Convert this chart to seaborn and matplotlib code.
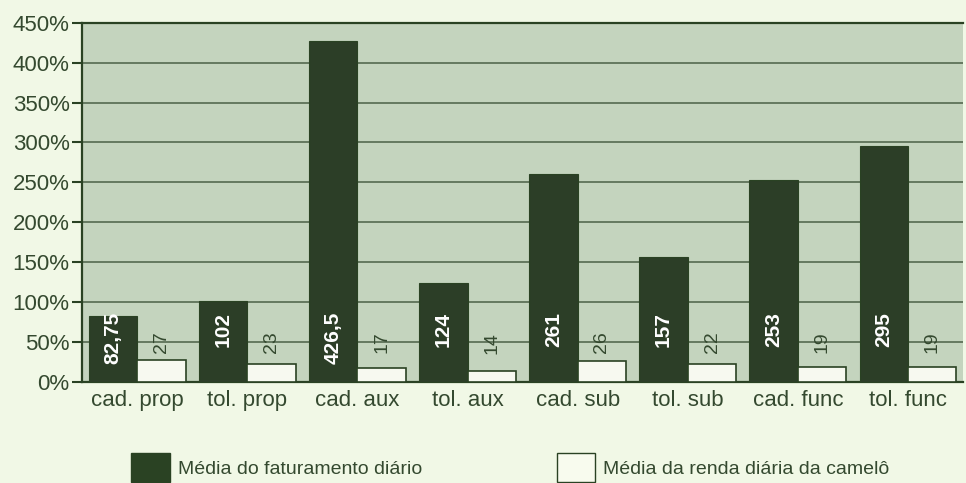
import matplotlib
matplotlib.use("Agg")
import matplotlib.pyplot as plt
import seaborn as sns
import pandas as pd
from matplotlib.patches import Patch

categories = ["cad. prop", "tol. prop", "cad. aux", "tol. aux",
              "cad. sub", "tol. sub", "cad. func", "tol. func"]
faturamento = [82.75, 102, 426.5, 124, 261, 157, 253, 295]
renda = [27, 23, 17, 14, 26, 22, 19, 19]
faturamento_labels = ["82,75", "102", "426,5", "124", "261", "157", "253", "295"]
renda_labels = ["27", "23", "17", "14", "26", "22", "19", "19"]
series_names = ["Média do faturamento diário", "Média da renda diária da camelô"]
yticks = [0, 50, 100, 150, 200, 250, 300, 350, 400, 450]
ytick_labels = ["0%", "50%", "100%", "150%", "200%", "250%", "300%", "350%", "400%", "450%"]

FIG_BG = "#f1f8e6"
AX_BG = "#c4d4be"
DARK = "#2a4223"
LIGHT = "#f8fbee"
GRID = "#5d7259"
TEXT = "#34492f"

sns.set_theme(style="white")
plt.rcParams["font.family"] = ["Liberation Sans", "DejaVu Sans"]

df = pd.DataFrame({
    "cat": categories * 2,
    "val": faturamento + renda,
    "serie": [series_names[0]] * len(categories) + [series_names[1]] * len(categories),
})

fig = plt.figure(figsize=(9.66, 4.83), dpi=100, facecolor=FIG_BG)
ax = fig.add_axes([0.085, 0.209, 0.912, 0.744])
ax.set_facecolor(AX_BG)

sns.barplot(data=df, x="cat", y="val", hue="serie", order=categories,
            hue_order=series_names, palette=[DARK, LIGHT], width=0.88,
            gap=0, ax=ax, legend=False, zorder=3)

for bar in ax.containers[1]:
    bar.set_edgecolor(DARK)
    bar.set_linewidth(1.2)
for bar in ax.containers[0]:
    bar.set_edgecolor(DARK)
    bar.set_linewidth(0.8)

# value labels
for bar, lab in zip(ax.containers[0], faturamento_labels):
    cx = bar.get_x() + bar.get_width() / 2
    ax.text(cx, 88, lab, rotation=90, ha="center", va="top", color="white",
            fontsize=15, fontweight="bold", zorder=5)
for bar, lab in zip(ax.containers[1], renda_labels):
    cx = bar.get_x() + bar.get_width() / 2
    ax.text(cx, 63, lab, rotation=90, ha="center", va="top", color=TEXT,
            fontsize=14, zorder=5)

ax.set_xlim(-0.5, len(categories) - 0.5)
ax.set_ylim(0, 450)
ax.set_yticks(yticks)
ax.set_yticklabels(ytick_labels)
ax.set_xlabel("")
ax.set_ylabel("")
ax.grid(axis="y", color=GRID, linewidth=1.3, zorder=0)
ax.set_axisbelow(True)

ax.set_xticks([i + 0.5 for i in range(len(categories) - 1)], minor=True)
ax.tick_params(axis="x", which="major", length=0, labelsize=16, colors=TEXT, pad=6)
ax.tick_params(axis="x", which="minor", length=5, width=1.5, color=DARK, direction="out")
ax.tick_params(axis="y", length=7, width=1.5, color=DARK, labelsize=16,
               labelcolor=TEXT, direction="out", pad=2, left=True)

for s in ["left", "bottom", "top"]:
    ax.spines[s].set_visible(True)
    ax.spines[s].set_color(DARK)
    ax.spines[s].set_linewidth(1.6)
ax.spines["right"].set_visible(False)

handles = [Patch(facecolor=DARK, edgecolor=DARK, label=series_names[0]),
           Patch(facecolor=LIGHT, edgecolor=DARK, linewidth=1.0, label=series_names[1])]
fig.legend(handles=handles, loc="lower left", bbox_to_anchor=(0.118, -0.034), ncol=2,
           frameon=False, fontsize=14, labelcolor=TEXT, handlelength=2.0,
           handleheight=1.9, handletextpad=0.4, columnspacing=6.9)

fig.savefig("out.png", dpi=100, facecolor=FIG_BG)
